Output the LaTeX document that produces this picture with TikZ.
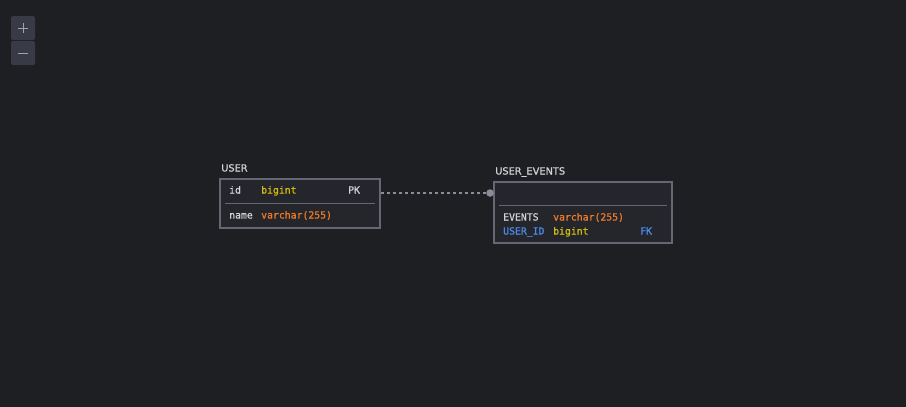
\documentclass[tikz,border=0pt]{standalone}
\usepackage{fontspec}
\newfontfamily\monof[AutoFakeBold=0.9]{DejaVu Sans Mono}
\newfontfamily\titlef[AutoFakeBold=0.9]{DejaVu Sans}
\definecolor{bg}{HTML}{1E1F23}
\definecolor{boxfill}{HTML}{24262C}
\definecolor{boxline}{HTML}{656872}
\definecolor{btn}{HTML}{383B45}
\definecolor{btntxt}{HTML}{A0A3AC}
\definecolor{txt}{HTML}{D2D3D6}
\definecolor{typey}{HTML}{D0BA10}
\definecolor{typeo}{HTML}{EA7A28}
\definecolor{fkblue}{HTML}{4C8DEC}
\definecolor{conn}{HTML}{8A8D96}
\tikzset{
  ttl/.style={anchor=west, inner sep=0pt, text height=7pt, text depth=2pt, text=txt, font=\titlef\bfseries\fontsize{9.8}{11}\selectfont},
  fld/.style={anchor=west, inner sep=0pt, text height=7pt, text depth=2pt, font=\monof\bfseries\fontsize{9.8}{11}\selectfont},
  tbl/.style={draw=boxline, fill=boxfill, line width=1.5pt},
  sep/.style={draw=boxline, line width=1pt},
  btnbox/.style={fill=btn, rounded corners=1.5pt},
}
\begin{document}
\begin{tikzpicture}[x=1pt,y=-1pt]
\fill[bg] (0,0) rectangle (906,407);
\useasboundingbox (0,0) rectangle (906,407);
% zoom buttons
\node[btnbox, minimum width=24pt, minimum height=24pt, inner sep=0pt] (zin) at (23,28) {};
\node[btnbox, minimum width=24pt, minimum height=24pt, inner sep=0pt] (zout) at (23,53) {};
\draw[btntxt, line width=0.9pt] (18,28) -- (28,28) (23,23) -- (23,33);
\draw[btntxt, line width=0.9pt] (18,53) -- (28,53);
% USER table
\node[ttl] (usert) at (221,169) {USER};
\draw[tbl] (220,179) rectangle (380,228);
\coordinate (userR) at (381,193);
\node[fld, text=txt] (u1n) at (229,191) {id};
\node[fld, text=typey] (u1t) at (261,191) {bigint};
\node[fld, text=txt] (u1k) at (348,191) {PK};
\draw[sep] (225,203) -- (375,203);
\node[fld, text=txt] (u2n) at (229,216) {name};
\node[fld, text=typeo] (u2t) at (261,216) {varchar(255)};
% USER_EVENTS table
\node[ttl] (evt) at (495,172) {USER\_EVENTS};
\draw[tbl] (494,182) rectangle (672,243);
\draw[sep] (499,205) -- (667,205);
\node[fld, text=txt] (e1n) at (503,218) {EVENTS};
\node[fld, text=typeo] (e1t) at (553,218) {varchar(255)};
\node[fld, text=fkblue] (e2n) at (503,232) {USER\_ID};
\node[fld, text=typey] (e2t) at (553,232) {bigint};
\node[fld, text=fkblue] (e2k) at (640,232) {FK};
% connector
\node[circle, fill=conn, minimum size=7.5pt, inner sep=0pt] (dot) at (490,193) {};
\draw[conn, line width=1.6pt, dash pattern=on 2.5pt off 3.5pt] (userR) -- (dot.west);
\end{tikzpicture}
\end{document}
